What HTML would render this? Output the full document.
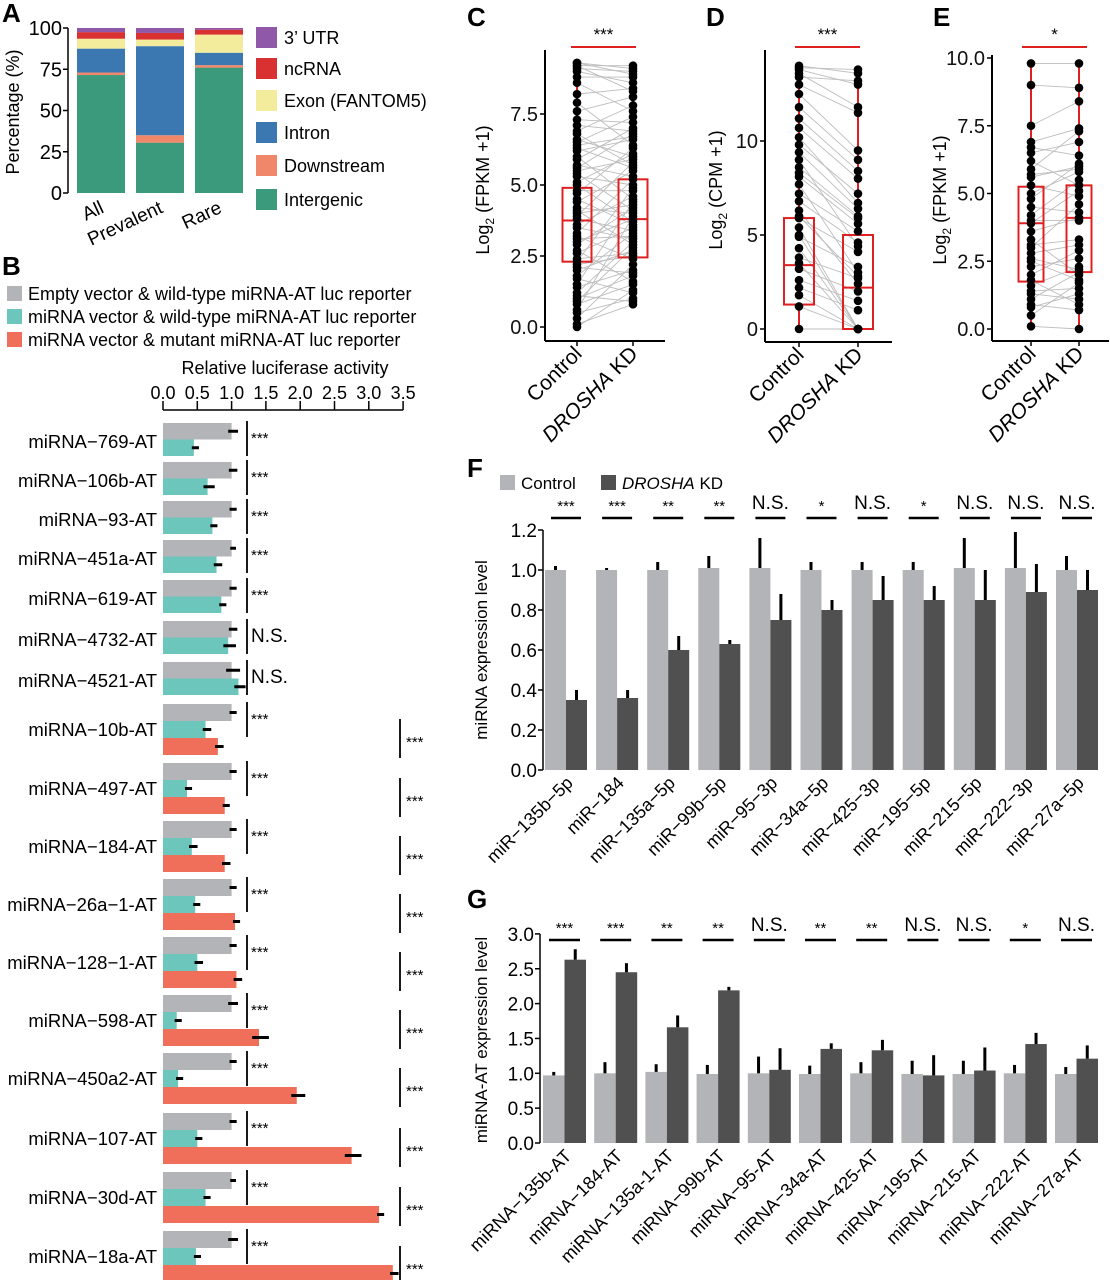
<!DOCTYPE html>
<html><head><meta charset="utf-8"><style>
body{margin:0;background:#fff;}
svg{display:block;font-family:"Liberation Sans",Arial,sans-serif;}
</style></head><body>
<svg id="fig" width="1110" height="1280" viewBox="0 0 1110 1280" xmlns="http://www.w3.org/2000/svg"></svg>
<script>
// ---------- Panel A data ----------
const aCats=["All","Prevalent","Rare"];
const aLayers=["Intergenic","Downstream","Intron","Exon (FANTOM5)","ncRNA","3\u2019 UTR"];
const aIntergenic=[71.5,30.5,76];
const aDownstream=[1.5,4.5,1.5];
const aIntron=[14.5,54,7.5];
const aExon=[6,4,11];
const aNcRNA=[4,4,3];
const aUTR=[2.5,3,1];
const aTicks=[0,25,50,75,100];
// ---------- Panel B data ----------
const bLabels=["miRNA\u2212769-AT","miRNA\u2212106b-AT","miRNA\u221293-AT","miRNA\u2212451a-AT","miRNA\u2212619-AT","miRNA\u22124732-AT","miRNA\u22124521-AT","miRNA\u221210b-AT","miRNA\u2212497-AT","miRNA\u2212184-AT","miRNA\u221226a\u22121-AT","miRNA\u2212128\u22121-AT","miRNA\u2212598-AT","miRNA\u2212450a2-AT","miRNA\u2212107-AT","miRNA\u221230d-AT","miRNA\u221218a-AT"];
const bEmpty=[1.0,1.0,1.0,1.0,1.0,1.0,1.0,1.0,1.0,1.0,1.0,1.0,1.0,1.0,1.0,1.0,1.0];
const bEmptyErr=[0.05,0.04,0.03,0.02,0.03,0.04,0.08,0.03,0.03,0.03,0.03,0.03,0.05,0.03,0.03,0.02,0.05];
const bWild=[0.45,0.65,0.72,0.78,0.85,0.95,1.1,0.62,0.35,0.42,0.47,0.5,0.2,0.22,0.5,0.62,0.48];
const bWildErr=[0.03,0.06,0.03,0.04,0.03,0.07,0.06,0.04,0.03,0.04,0.03,0.04,0.03,0.03,0.03,0.03,0.03];
const bMut=[null,null,null,null,null,null,null,0.8,0.9,0.9,1.05,1.07,1.4,1.95,2.75,3.15,3.35];
const bMutErr=[0,0,0,0,0,0,0,0.04,0.03,0.04,0.03,0.04,0.1,0.08,0.1,0.03,0.04];
const bSigL=["***","***","***","***","***","N.S.","N.S.","***","***","***","***","***","***","***","***","***","***"];
const bSigR=[null,null,null,null,null,null,null,"***","***","***","***","***","***","***","***","***","***"];
const bTicks=[0,0.5,1,1.5,2,2.5,3,3.5];
const bTickLabels=["0.0","0.5","1.0","1.5","2.0","2.5","3.0","3.5"];
// ---------- Panel C data ----------
const cCtrl=[0.0,0.1,0.3,0.5,0.6,0.8,0.9,1.1,1.2,1.4,1.5,1.7,1.8,2.0,2.1,2.3,2.4,2.6,2.7,2.9,3.0,3.2,3.3,3.5,3.6,3.8,3.9,4.1,4.2,4.4,4.5,4.7,4.8,5.0,5.1,5.3,5.4,5.6,5.7,5.9,6.0,6.2,6.3,6.5,6.6,6.8,6.9,7.1,7.3,7.6,7.9,8.2,8.6,8.8,9.0,9.1,9.2,9.3,9.3,9.2,4.0,3.1,2.2,5.5,1.0,6.4];
const cKD=[1.3,0.8,2.2,1.0,3.9,1.5,2.8,0.9,3.0,2.0,4.4,1.2,3.3,2.7,1.9,4.9,2.6,3.5,1.6,4.2,3.8,2.4,5.2,3.1,4.6,3.4,5.8,2.9,4.0,5.5,3.6,6.3,4.8,3.7,6.1,5.0,4.1,6.8,5.3,7.0,4.5,6.6,5.6,7.4,6.0,5.7,7.8,6.9,7.2,8.1,6.4,8.4,7.6,8.8,8.6,9.0,9.2,8.9,9.1,8.3,4.3,3.2,2.5,5.9,1.8,6.7];
const cBoxCtrl=[2.3,3.75,4.9,0.0,9.3];
const cBoxKD=[2.45,3.8,5.2,0.8,9.2];
const cTicks=[0,2.5,5,7.5];
// ---------- Panel D data ----------
const dCtrl=[0,1.2,1.8,2.6,3.2,3.8,4.3,4.9,5.4,5.9,6.3,6.8,7.2,7.7,8.1,8.6,9.0,9.4,9.8,10.2,10.7,11.2,11.8,12.5,13.0,13.6,13.8,14.0,13.9,13.4,3.5,6.0,8.3,5.0,2.2];
const dKD=[0,0,0,1.5,2.0,2.7,0,3.3,0,4.1,2.4,4.6,5.2,3.0,5.6,6.0,4.4,6.4,7.2,6.7,8.0,8.4,9.0,9.5,11.5,11.8,13.0,13.6,13.8,13.2,0,2.8,5.9,0,1.0];
const dBoxCtrl=[1.3,3.4,5.9,0,14.0];
const dBoxKD=[0,2.2,5.0,0,13.8];
const dTicks=[0,5,10];
// ---------- Panel E data ----------
const eCtrl=[0.1,0.5,0.9,1.1,1.3,1.6,1.8,2.0,2.3,2.5,2.8,3.0,3.3,3.6,3.9,4.2,4.5,4.8,5.0,5.3,5.6,5.9,6.2,6.5,6.9,7.5,9.0,9.8,1.4,2.6,4.0,5.7,3.1,0.8,6.7];
const eKD=[0.0,1.7,0.7,2.1,1.1,2.3,0.9,2.9,2.6,1.8,3.1,4.6,2.0,4.1,5.1,5.5,4.3,6.1,5.8,4.9,6.0,7.3,5.3,6.9,7.4,8.4,8.9,9.8,1.5,2.2,4.0,5.9,3.3,1.3,6.4];
const eBoxCtrl=[1.75,3.9,5.25,0.1,9.8];
const eBoxKD=[2.1,4.1,5.3,0,9.8];
const eTicks=[0,2.5,5,7.5,10];
// ---------- Panel F data ----------
const fCats=["miR\u2212135b\u22125p","miR\u2212184","miR\u2212135a\u22125p","miR\u221299b\u22125p","miR\u221295\u22123p","miR\u221234a\u22125p","miR\u2212425\u22123p","miR\u2212195\u22125p","miR\u2212215\u22125p","miR\u2212222\u22123p","miR\u221227a\u22125p"];
const fCtrl=[1.0,1.0,1.0,1.01,1.01,1.0,1.0,1.0,1.01,1.01,1.0];
const fCtrlErr=[0.02,0.01,0.04,0.06,0.15,0.04,0.04,0.04,0.15,0.18,0.07];
const fKD=[0.35,0.36,0.60,0.63,0.75,0.80,0.85,0.85,0.85,0.89,0.90];
const fKDErr=[0.05,0.04,0.07,0.02,0.13,0.05,0.12,0.07,0.15,0.14,0.10];
const fSig=["***","***","**","**","N.S.","*","N.S.","*","N.S.","N.S.","N.S."];
const fTicks=[0,0.2,0.4,0.6,0.8,1.0,1.2];
// ---------- Panel G data ----------
const gCats=["miRNA\u2212135b-AT","miRNA\u2212184-AT","miRNA\u2212135a-1-AT","miRNA\u221299b-AT","miRNA\u221295-AT","miRNA\u221234a-AT","miRNA\u2212425-AT","miRNA\u2212195-AT","miRNA\u2212215-AT","miRNA\u2212222-AT","miRNA\u221227a-AT"];
const gCtrl=[0.97,1.0,1.02,0.99,1.0,0.99,1.0,0.99,0.99,1.0,0.99];
const gCtrlErr=[0.05,0.16,0.11,0.13,0.24,0.12,0.16,0.19,0.19,0.12,0.1];
const gKD=[2.63,2.45,1.66,2.19,1.05,1.35,1.33,0.97,1.04,1.42,1.21];
const gKDErr=[0.15,0.13,0.17,0.05,0.31,0.08,0.15,0.29,0.33,0.16,0.19];
const gSig=["***","***","**","**","N.S.","**","**","N.S.","N.S.","*","N.S."];
const gTicks=[0,0.5,1,1.5,2,2.5,3];

const svg=document.getElementById('fig');
const NS="http://www.w3.org/2000/svg";
function mk(tag,attrs,parent,txt){const e=document.createElementNS(NS,tag);for(const k in attrs)e.setAttribute(k,attrs[k]);if(txt!==undefined)e.textContent=txt;(parent||svg).appendChild(e);return e;}
function grp(name){const g=mk('g',{});


return g;}

// ===== Panel A =====
(function(){
const g=grp('panel-a');
const yA=v=>193-v*1.65;
const bx=[77,136,195], bw=48;
mk('text',{x:2,y:22,'font-size':26,'font-weight':'bold'},g,'A');
const ax=mk('line',{x1:68,y1:yA(0),x2:68,y2:yA(100),stroke:'#000','stroke-width':1.5},g);

aTicks.forEach(t=>{mk('line',{x1:63,x2:68,y1:yA(t),y2:yA(t),stroke:'#000','stroke-width':1.5},g);
const tl=mk('text',{x:62,y:yA(t)+7,'font-size':20,'text-anchor':'end'},g,String(t));
});
const yl=mk('text',{transform:'translate(19,112) rotate(-90)','font-size':18,'text-anchor':'middle'},g,'Percentage (%)');

const series=[aIntergenic,aDownstream,aIntron,aExon,aNcRNA,aUTR];
const cols=['#3a9a7b','#f0876a','#3b77b0','#f2ec9c','#d93131','#8f58a8'];
aCats.forEach((c,i)=>{let cum=0;series.forEach((s,j)=>{const r=mk('rect',{x:bx[i],y:yA(cum+s[i]),width:bw,height:s[i]*1.65,fill:cols[j]},g);
cum+=s[i];});
const lbl=mk('text',{transform:`translate(${bx[i]+bw/2+4},${212}) rotate(-25)`,'font-size':19,'text-anchor':'end'},g,c);
});
const legY=[37,68,100,132,165,199];
aLayers.slice().reverse().forEach((n,k)=>{const j=5-k;
const sq=mk('rect',{x:256,y:legY[k]-10,width:21,height:21,fill:cols[j]},g);

const t=mk('text',{x:284,y:legY[k]+7,'font-size':18},g,n);
});
})();

// ===== Panel B =====
(function(){
const g=grp('panel-b');
const xB=v=>163+v*68.6;
mk('text',{x:2,y:275,'font-size':26,'font-weight':'bold'},g,'B');
const leg=[['#b3b4b7','Empty vector & wild-type miRNA-AT luc reporter'],['#6cc6bb','miRNA vector & wild-type miRNA-AT luc reporter'],['#f06f5a','miRNA vector & mutant miRNA-AT luc reporter']];
leg.forEach((l,k)=>{const sq=mk('rect',{x:7,y:286+k*23,width:15,height:15,fill:l[0]},g);

const t=mk('text',{x:28,y:300+k*23,'font-size':18},g,l[1]);
});
const tt=mk('text',{x:285,y:374,'font-size':18,'text-anchor':'middle'},g,'Relative luciferase activity');

mk('line',{x1:xB(0),x2:xB(3.5),y1:410,y2:410,stroke:'#000','stroke-width':1.5},g);
bTicks.forEach((t,k)=>{mk('line',{x1:xB(t),x2:xB(t),y1:401,y2:410,stroke:'#000','stroke-width':1.5},g);
const tl=mk('text',{x:xB(t),y:399,'font-size':18,'text-anchor':'middle'},g,bTickLabels[k]);
});
const starts=[423,462,501,540,580,621,662,704,763,821,879,937,995,1053,1113,1172,1231];
bLabels.forEach((lab,i)=>{
 const y0=starts[i]; const three=bMut[i]!==null; const h=three?17:16.5;
 const vals=[[bEmpty[i],bEmptyErr[i],'#b3b4b7'],[bWild[i],bWildErr[i],'#6cc6bb']];
 if(three)vals.push([bMut[i],bMutErr[i],'#f06f5a']);
 vals.forEach((v,k)=>{const r=mk('rect',{x:xB(0),y:y0+k*h,width:v[0]*68.6,height:h,fill:v[2]},g);
 
 mk('line',{x1:xB(v[0]-v[1]),x2:xB(v[0]+v[1])+3,y1:y0+k*h+h/2,y2:y0+k*h+h/2,stroke:'#000','stroke-width':3},g);});
 const tot=vals.length*h;
 const lt=mk('text',{x:157,y:y0+(three?25:18)+7,'font-size':18.5,'text-anchor':'end'},g,lab);
 
 mk('line',{x1:247,x2:247,y1:y0-2,y2:y0+33,stroke:'#000','stroke-width':1.8},g);
 const ns=bSigL[i]==='N.S.';
 const s=mk('text',{x:251,y:y0+(ns?21:20),'font-size':ns?19:15},g,bSigL[i]);
 
 if(bSigR[i]){mk('line',{x1:400,x2:400,y1:y0+15,y2:y0+tot+3,stroke:'#000','stroke-width':1.8},g);
 const s2=mk('text',{x:406,y:y0+tot-8,'font-size':15},g,bSigR[i]);
 }
});
})();

// ===== Panels C, D, E =====
function paired(cfg){
 const g=grp(cfg.name);
 const y=v=>cfg.y0-v*cfg.k;
 mk('text',{x:cfg.letterX,y:26,'font-size':26,'font-weight':'bold'},g,cfg.letter);
 cfg.ctrl.forEach((v,i)=>{mk('line',{x1:cfg.cx,y1:y(v),x2:cfg.kx,y2:y(cfg.kd[i]),stroke:'#bdbdbd','stroke-width':0.9},g);});
 [[cfg.cx,cfg.bc],[cfg.kx,cfg.bk]].forEach(([x,b],j)=>{
  mk('line',{x1:x,x2:x,y1:y(b[2]),y2:y(b[4]),stroke:'#e02020','stroke-width':2},g);
  mk('line',{x1:x,x2:x,y1:y(b[0]),y2:y(b[3]),stroke:'#e02020','stroke-width':2},g);
  const r=mk('rect',{x:x-cfg.bw/2,y:y(b[2]),width:cfg.bw,height:y(b[0])-y(b[2]),fill:'none',stroke:'#e02020','stroke-width':2},g);
  
  mk('line',{x1:x-cfg.bw/2,x2:x+cfg.bw/2,y1:y(b[1]),y2:y(b[1]),stroke:'#e02020','stroke-width':2},g);
 });
 cfg.ctrl.forEach(v=>{const c=mk('circle',{cx:cfg.cx,cy:y(v),r:4.3,fill:'#000'},g);
 });
 cfg.kd.forEach(v=>{const c=mk('circle',{cx:cfg.kx,cy:y(v),r:4.3,fill:'#000'},g);
 });
 mk('line',{x1:cfg.ax,x2:cfg.ax,y1:cfg.top,y2:cfg.base,stroke:'#000','stroke-width':2},g);
 mk('line',{x1:cfg.ax,x2:cfg.xEnd,y1:cfg.base,y2:cfg.base,stroke:'#000','stroke-width':2},g);
 cfg.ticks.forEach(t=>{mk('line',{x1:cfg.ax-5,x2:cfg.ax,y1:y(t),y2:y(t),stroke:'#000','stroke-width':1.5},g);
 const tl=mk('text',{x:cfg.ax-7,y:y(t)+7,'font-size':20,'text-anchor':'end',fill:'#111'},g,cfg.fmt(t));
 });
 [cfg.cx,cfg.kx].forEach(x=>mk('line',{x1:x,x2:x,y1:cfg.base,y2:cfg.base+5,stroke:'#000','stroke-width':1.5},g));
 const l1=mk('text',{transform:`translate(${cfg.cx+6},${cfg.base+14}) rotate(-45)`,'font-size':21,'text-anchor':'end'},g,'Control');
 
 const l2=mk('text',{transform:`translate(${cfg.kx+6},${cfg.base+14}) rotate(-45)`,'font-size':21,'text-anchor':'end'},g);
 
 mk('tspan',{'font-style':'italic'},l2,'DROSHA');mk('tspan',{},l2,' KD');
 const yl=mk('text',{transform:`translate(${cfg.ylx},${cfg.yly}) rotate(-90)`,'font-size':18,'text-anchor':'middle'},g);
 
 mk('tspan',{},yl,'Log');mk('tspan',{'font-size':12,dy:5},yl,'2');mk('tspan',{dy:-5},yl,' '+cfg.unit);
 mk('line',{x1:cfg.sx1,x2:cfg.sx2,y1:47,y2:47,stroke:'#e02020','stroke-width':2},g);
 const st=mk('text',{x:(cfg.sx1+cfg.sx2)/2,y:40,'font-size':17,'text-anchor':'middle'},g,cfg.sig);
 
}
paired({name:'panel-c',letter:'C',letterX:467,y0:327,k:28.4,ctrl:cCtrl,kd:cKD,bc:cBoxCtrl,bk:cBoxKD,cx:577,kx:633,bw:29,ax:545,top:50,base:341,xEnd:665,ticks:cTicks,fmt:t=>t.toFixed(1),ylx:489,yly:190,unit:'(FPKM +1)',sx1:571,sx2:636,sig:'***'});
paired({name:'panel-d',letter:'D',letterX:706,y0:329,k:18.8,ctrl:dCtrl,kd:dKD,bc:dBoxCtrl,bk:dBoxKD,cx:799,kx:858,bw:30,ax:765,top:50,base:342,xEnd:892,ticks:dTicks,fmt:t=>String(t),ylx:722,yly:190,unit:'(CPM +1)',sx1:795,sx2:860,sig:'***'});
paired({name:'panel-e',letter:'E',letterX:933,y0:329,k:27.1,ctrl:eCtrl,kd:eKD,bc:eBoxCtrl,bk:eBoxKD,cx:1031,kx:1079,bw:25,ax:992,top:55,base:341,xEnd:1109,ticks:eTicks,fmt:t=>t.toFixed(1),ylx:946,yly:200,unit:'(FPKM +1)',sx1:1022,sx2:1087,sig:'*'});

// ===== Panels F, G =====
function barPanel(cfg){
 const g=grp(cfg.name);
 const y=v=>cfg.y0-v*cfg.k;
 mk('text',{x:467,y:cfg.letterY,'font-size':26,'font-weight':'bold'},g,cfg.letter);
 cfg.cats.forEach((c,i)=>{
  const x0=cfg.bx+i*cfg.pitch;
  const r1=mk('rect',{x:x0,y:y(cfg.ctrl[i]),width:cfg.w,height:cfg.ctrl[i]*cfg.k,fill:'#b3b4b7'},g);
  
  const r2=mk('rect',{x:x0+cfg.w,y:y(cfg.kd[i]),width:cfg.w,height:cfg.kd[i]*cfg.k,fill:'#505050'},g);
  
  mk('line',{x1:x0+cfg.w/2,x2:x0+cfg.w/2,y1:y(cfg.ctrl[i]),y2:y(cfg.ctrl[i]+cfg.ce[i]),stroke:'#000','stroke-width':3},g);
  mk('line',{x1:x0+cfg.w*1.5,x2:x0+cfg.w*1.5,y1:y(cfg.kd[i]),y2:y(cfg.kd[i]+cfg.ke[i]),stroke:'#000','stroke-width':3},g);
  mk('line',{x1:x0+6,x2:x0+cfg.w*2-6,y1:cfg.sigY,y2:cfg.sigY,stroke:'#000','stroke-width':2.5},g);
  const ns=cfg.sig[i]==='N.S.';
  const st=mk('text',{x:x0+cfg.w,y:cfg.sigY-(ns?9:7),'font-size':ns?19:15,'text-anchor':'middle'},g,cfg.sig[i]);
  
  const lt=mk('text',{transform:`translate(${x0+cfg.w+8},${cfg.y0+14}) rotate(-45)`,'font-size':18,'text-anchor':'end'},g,c);
  
 });
 mk('line',{x1:cfg.ax,x2:cfg.ax,y1:y(cfg.ticks[cfg.ticks.length-1]),y2:cfg.y0,stroke:'#000','stroke-width':1.5},g);
 cfg.ticks.forEach(t=>{mk('line',{x1:cfg.ax-5,x2:cfg.ax,y1:y(t),y2:y(t),stroke:'#000','stroke-width':1.5},g);
 const tl=mk('text',{x:cfg.ax-6,y:y(t)+7,'font-size':19,'text-anchor':'end'},g,t.toFixed(1));
 });
 const yl=mk('text',{transform:`translate(${cfg.ylx},${cfg.yly}) rotate(-90)`,'font-size':17,'text-anchor':'middle'},g,cfg.ytitle);
 
}
barPanel({name:'panel-f',letter:'F',letterY:477,cats:fCats,ctrl:fCtrl,ce:fCtrlErr,kd:fKD,ke:fKDErr,sig:fSig,ticks:fTicks,y0:770,k:200,ax:543,bx:545,pitch:51.1,w:21,sigY:518,ylx:487,yly:650,ytitle:'miRNA expression level'});
barPanel({name:'panel-g',letter:'G',letterY:908,cats:gCats,ctrl:gCtrl,ce:gCtrlErr,kd:gKD,ke:gKDErr,sig:gSig,ticks:gTicks,y0:1143,k:69.7,ax:540,bx:543,pitch:51.2,w:21.5,sigY:940,ylx:487,yly:1040,ytitle:'miRNA-AT expression level'});

// F legend
(function(){const g=grp('panel-f-legend');
const s1=mk('rect',{x:500,y:475,width:15,height:15,fill:'#b3b4b7'},g);

const t1=mk('text',{x:521,y:489,'font-size':17},g,'Control');

const s2=mk('rect',{x:601,y:475,width:15,height:15,fill:'#505050'},g);

const t2=mk('text',{x:622,y:489,'font-size':17},g);

mk('tspan',{'font-style':'italic'},t2,'DROSHA');mk('tspan',{},t2,' KD');})();
</script>
</body></html>
